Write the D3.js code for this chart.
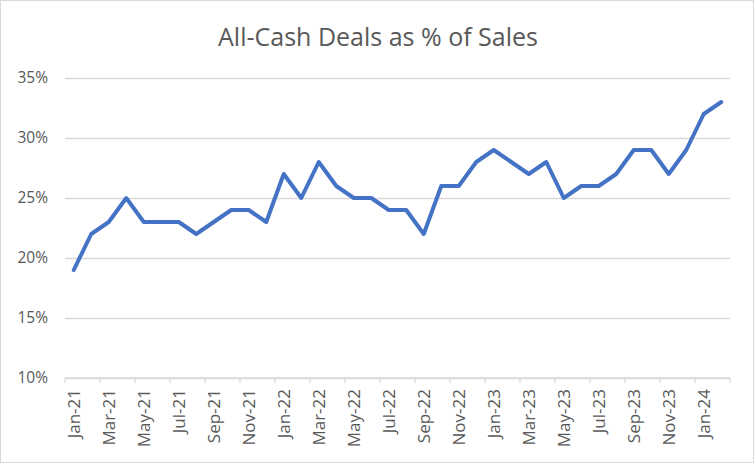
<!DOCTYPE html>
<html>
<head>
<meta charset="utf-8">
<script src="https://cdn.jsdelivr.net/npm/d3@7"></script>
<style>
  body { margin: 0; background: #fff; }
  svg { display: block; }
</style>
</head>
<body>
<div id="chart"></div>
<script>
// Months, Jan-21 .. Feb-24
const months = [
  "Jan-21","Feb-21","Mar-21","Apr-21","May-21","Jun-21","Jul-21","Aug-21","Sep-21","Oct-21","Nov-21","Dec-21",
  "Jan-22","Feb-22","Mar-22","Apr-22","May-22","Jun-22","Jul-22","Aug-22","Sep-22","Oct-22","Nov-22","Dec-22",
  "Jan-23","Feb-23","Mar-23","Apr-23","May-23","Jun-23","Jul-23","Aug-23","Sep-23","Oct-23","Nov-23","Dec-23",
  "Jan-24","Feb-24"
];
// All-cash share of sales, %
const cashPct = [
  19, 22, 23, 25, 23, 23, 23, 22, 23, 24, 24, 23,
  27, 25, 28, 26, 25, 25, 24, 24, 22, 26, 26, 28,
  29, 28, 27, 28, 25, 26, 26, 27, 29, 29, 27, 29,
  32, 33
];
const yTicks = [10, 15, 20, 25, 30, 35];

const width = 754, height = 463;
const margin = { top: 78, right: 24, bottom: 85, left: 65 };
const textColor = "#595959";
const font = "'Open Sans', sans-serif";

const svg = d3.select("#chart").append("svg")
  .attr("width", width)
  .attr("height", height);

// outer chart border
svg.append("rect")
  .attr("x", 0.5).attr("y", 0.5)
  .attr("width", width - 1).attr("height", height - 1)
  .attr("fill", "#fff")
  .attr("stroke", "#d9d9d9");

svg.append("text")
  .attr("x", width / 2 + 1)
  .attr("y", 46)
  .attr("text-anchor", "middle")
  .attr("fill", textColor)
  .style("font-family", font)
  .style("font-size", "25px")
  .text("All-Cash Deals as % of Sales");

const x = d3.scaleBand()
  .domain(months)
  .range([margin.left, width - margin.right]);

const y = d3.scaleLinear()
  .domain([10, 35])
  .range([height - margin.bottom, margin.top]);

// gridlines + y labels
const yAxis = svg.append("g")
  .attr("transform", `translate(${margin.left},0)`)
  .call(d3.axisLeft(y)
    .tickValues(yTicks)
    .tickSize(-(width - margin.left - margin.right))
    .tickPadding(17)
    .tickFormat(d => d + "%"));
yAxis.select(".domain").remove();
yAxis.selectAll(".tick line")
  .attr("stroke", "#d9d9d9")
  .attr("stroke-width", 1.3);
yAxis.selectAll(".tick text")
  .attr("fill", textColor)
  .style("font-family", font)
  .style("font-size", "15.5px");

// x axis: line, ticks every 2 months at category edges
const xAxisY = y(10);
const g = svg.append("g");
g.append("line")
  .attr("x1", margin.left).attr("x2", width - margin.right)
  .attr("y1", xAxisY).attr("y2", xAxisY)
  .attr("stroke", "#d9d9d9")
  .attr("stroke-width", 1.3);

const edges = d3.range(0, months.length + 1, 2);
g.selectAll(".xtick")
  .data(edges)
  .join("line")
  .attr("class", "xtick")
  .attr("x1", i => i < months.length ? x(months[i]) : x.range()[1])
  .attr("x2", i => i < months.length ? x(months[i]) : x.range()[1])
  .attr("y1", xAxisY).attr("y2", xAxisY + 5)
  .attr("stroke", "#d9d9d9")
  .attr("stroke-width", 1.3);

g.selectAll(".xlabel")
  .data(months.filter((d, i) => i % 2 === 0))
  .join("text")
  .attr("class", "xlabel")
  .attr("transform", d => `translate(${x(d) + x.bandwidth() / 2 + 6},${xAxisY + 11}) rotate(-90)`)
  .attr("text-anchor", "end")
  .attr("fill", textColor)
  .style("font-family", font)
  .style("font-size", "17px")
  .text(d => d);

// series line
const line = d3.line()
  .x((d, i) => x(months[i]) + x.bandwidth() / 2)
  .y(d => y(d));

svg.append("path")
  .datum(cashPct)
  .attr("fill", "none")
  .attr("stroke", "#4472c4")
  .attr("stroke-width", 4)
  .attr("stroke-linejoin", "round")
  .attr("stroke-linecap", "round")
  .attr("d", line);
</script>
</body>
</html>
